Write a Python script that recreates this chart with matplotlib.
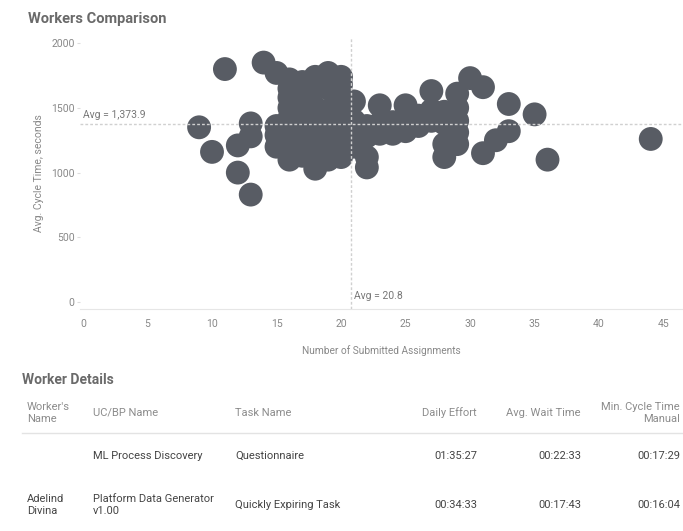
import matplotlib
matplotlib.use("Agg")
import matplotlib.pyplot as plt

# ---------------- data ----------------
submitted_assignments = [
    9, 10, 11, 12, 12, 13, 13, 13, 14, 15,
    16, 15, 15, 15, 16, 16, 16, 16, 16, 16, 16, 16,
    17, 17, 17, 17, 17, 17, 17, 17,
    18, 18, 18, 18, 18, 18, 18, 18, 18,
    19, 19, 19, 19, 19, 19, 19, 19,
    20, 20, 20, 20, 20, 20, 20, 20, 20,
    21, 21, 21, 21,
    22, 22, 22, 22,
    23, 23, 23,
    24, 24,
    25, 25, 25,
    26, 26,
    27, 27, 27,
    28, 28, 28, 28,
    29, 29, 29, 29, 29,
    30,
    31, 31,
    32,
    33, 33,
    35, 36, 44,
]
avg_cycle_time = [
    1350, 1160, 1800, 1210, 1000, 1380, 1280, 830, 1850, 1770,
    1720, 1290, 1200, 1360, 1100, 1180, 1260, 1340, 1420, 1500, 1580, 1650,
    1130, 1220, 1300, 1380, 1460, 1540, 1620, 1700,
    1030, 1110, 1200, 1280, 1360, 1440, 1500, 1660, 1740,
    1100, 1180, 1260, 1340, 1420, 1480, 1650, 1770,
    1120, 1200, 1280, 1360, 1440, 1520, 1600, 1680, 1740,
    1300, 1400, 1550, 1200,
    1040, 1120, 1280, 1360,
    1300, 1380, 1520,
    1300, 1390,
    1320, 1400, 1520,
    1360, 1440,
    1400, 1480, 1630,
    1120, 1220, 1380, 1470,
    1220, 1310, 1400, 1500, 1610,
    1730,
    1660, 1150,
    1250,
    1320, 1530,
    1450, 1100, 1260,
]
avg_x = 20.8
avg_y = 1373.9
x_ticks = [0, 5, 10, 15, 20, 25, 30, 35, 40, 45]
y_ticks = [0, 500, 1000, 1500, 2000]

table_headers = ["Worker's\nName", "UC/BP Name", "Task Name", "Daily Effort",
                 "Avg. Wait Time", "Min. Cycle Time\nManual"]
worker_names = ["", "Adelind\nDivina"]
ucbp_names = ["ML Process Discovery", "Platform Data Generator\nv1.00"]
task_names = ["Questionnaire", "Quickly Expiring Task"]
daily_effort = ["01:35:27", "00:34:33"]
avg_wait = ["00:22:33", "00:17:43"]
min_cycle = ["00:17:29", "00:16:04"]

# ---------------- style ----------------
plt.rcParams['font.family'] = ["Roboto", "DejaVu Sans"]

W, H = 683, 531
fig = plt.figure(figsize=(W / 100, H / 100), dpi=100)

def fx(px):
    return px / W

def fy(py):
    return 1 - py / H

ax_left, ax_right, ax_top, ax_bot = 80, 683, 38, 309
ax = fig.add_axes([fx(ax_left), fy(ax_bot), fx(ax_right - ax_left), (ax_bot - ax_top) / H])

dot_color = "#585c64"
ax.scatter(submitted_assignments, avg_cycle_time, s=295, color=dot_color,
           edgecolors="none", zorder=3)

ax.axhline(avg_y, color="#d0d0d0", lw=1, ls=(0, (2, 1.5)), zorder=4)
ax.axvline(avg_x, color="#d0d0d0", lw=1, ls=(0, (2, 1.5)), zorder=4)
ax.text(0.0, avg_y + 30, "Avg = 1,373.9", fontsize=7.5, color="#777777",
        ha="left", va="bottom", zorder=5)
ax.text(avg_x + 0.2, 10, "Avg = 20.8", fontsize=7.5, color="#777777",
        ha="left", va="bottom", zorder=5)

ax.set_xlim(-0.23, 46.5)
ax.set_ylim(-54, 2040)
ax.set_xticks(x_ticks)
ax.set_yticks(y_ticks)
for s in ["top", "right", "left"]:
    ax.spines[s].set_visible(False)
ax.spines["bottom"].set_color("#e6e6e6")
ax.tick_params(axis="x", length=0, labelsize=7.5, labelcolor="#888888", pad=7)
ax.tick_params(axis="y", length=2, color="#dddddd", labelsize=7.5,
               labelcolor="#888888", pad=2)
ax.set_xlabel("Number of Submitted Assignments", fontsize=7.3, color="#888888", labelpad=12)
ax.set_ylabel("Avg. Cycle Time, seconds", fontsize=7.5, color="#888888", labelpad=5)

fig.text(fx(28), fy(19), "Workers Comparison", fontsize=10.5, fontweight="bold",
         color="#6a6a6a", ha="left", va="center")

# ---------------- table ----------------
fig.text(fx(22), fy(380), "Worker Details", fontsize=10, fontweight="bold",
         color="#6a6a6a", ha="left", va="center")

col_x = [27, 93, 235, 477, 581, 680]
col_ha = ["left", "left", "left", "right", "right", "right"]
hdr_color = "#8c8c8c"
body_color = "#444444"
for txt, x, ha in zip(table_headers, col_x, col_ha):
    fig.text(fx(x), fy(413), txt, fontsize=8, color=hdr_color, ha=ha,
             va="center", multialignment=ha, linespacing=1.15)

fig.add_artist(plt.Line2D([fx(22), fx(683)], [fy(433), fy(433)],
                          color="#e3e3e3", lw=1))

row_y = [456, 505]
for i, y in enumerate(row_y):
    vals = [worker_names[i], ucbp_names[i], task_names[i],
            daily_effort[i], avg_wait[i], min_cycle[i]]
    for txt, x, ha in zip(vals, col_x, col_ha):
        fig.text(fx(x), fy(y), txt, fontsize=8, color=body_color, ha=ha,
                 va="center", multialignment=ha, linespacing=1.15)

fig.savefig("out.png", dpi=100)
